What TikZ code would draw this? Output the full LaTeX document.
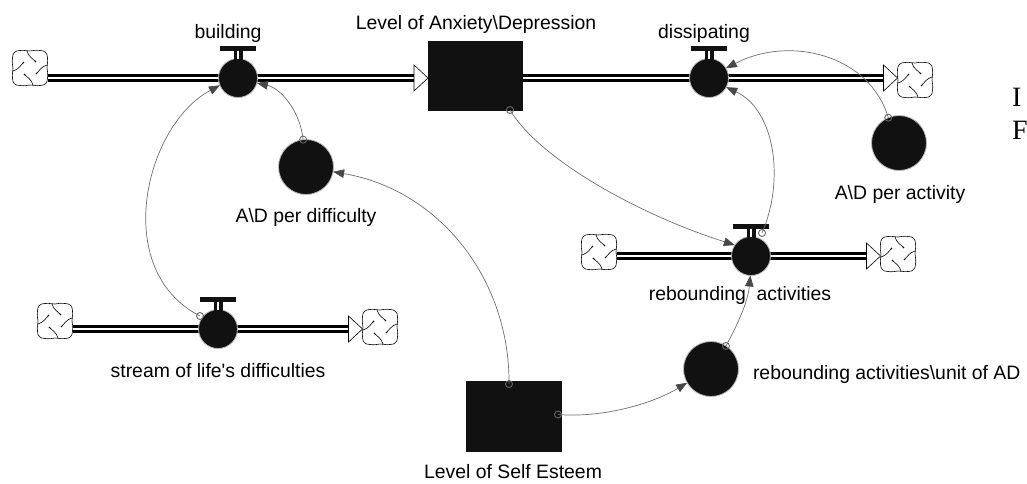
\documentclass[tikz,border=0pt]{standalone}
\usepackage{fontspec}
\setmainfont{Liberation Sans}
\newfontfamily\serifface{Liberation Serif}
\usetikzlibrary{arrows.meta,calc}

\definecolor{ink}{HTML}{111111}
\definecolor{linkgray}{HTML}{6E6E6E}
\definecolor{tipgray}{HTML}{484848}

\tikzset{
  cloudart/.pic={
    \foreach \r in {0,90,180,270}{
      \begin{scope}[rotate=\r]
        \draw[line width=0.6pt] (-10,-17.5) .. controls (-5,-18.2) and (-2.5,-16.6) .. (0,-17)
          .. controls (3,-17.6) and (6,-18) .. (10,-17.5) .. controls (15,-17.5) and (17.5,-15) .. (17.5,-10);
        \draw[line width=0.6pt] (-3,-17) .. controls (-1.5,-11.5) and (2.5,-9.5) .. (5.5,-6.5);
        \fill (5.5,-6.5) circle (0.9);
      \end{scope}
    }
  },
  valvetop/.pic={
    \fill[ink] (-18,-32) rectangle (18,-27.5);
    \fill[ink] (-4.5,-27.5) rectangle (4.5,-17);
    \draw[white, line width=1.2pt] (0,-27.5) -- (0,-19);
  }
}

\begin{document}
\begin{tikzpicture}[x=1pt,y=-1pt,
  every node/.style={inner sep=0pt, outer sep=0pt},
  lbl/.style={font=\fontsize{19.4}{22}\selectfont, anchor=base},
  stockbox/.style={rectangle, fill=ink, minimum width=95, minimum height=70},
  valvebody/.style={circle, fill=ink, draw=gray!55, line width=0.8pt, minimum size=39},
  auxbody/.style={circle, fill=ink, draw=gray!55, line width=0.8pt, minimum size=55},
  cloudbox/.style={rectangle, minimum size=35},
  pipe/.style={draw=black, line width=3.3pt, double=white, double distance=2.3pt},
  pipehead/.style={draw=black, fill=white, line width=0.6pt},
  link/.style={draw=linkgray, line width=0.7pt, -{Triangle[length=11pt,width=8.5pt,color=tipgray]}},
  srcring/.style={draw=gray!80!black, line width=0.9pt},
  sidenote/.style={font=\serifface\fontsize{28}{30}\selectfont, anchor=base west},
]
\useasboundingbox (0,0) rectangle (1027,483);

% ---- clouds (sources and sinks)
\node[cloudbox] (cTL) at (30,68) {};
\node[cloudbox] (cTR) at (915,80) {};
\node[cloudbox] (cRL) at (599,252) {};
\node[cloudbox] (cRR) at (898,254) {};
\node[cloudbox] (cSL) at (55,321) {};
\node[cloudbox] (cSR) at (380,327) {};
\foreach \c in {cTL,cTR,cRL,cRR,cSL,cSR}{ \pic at (\c) {cloudart}; }

% ---- stocks
\node[stockbox] (S1) at (475.5,76) {};
\node[stockbox, minimum width=96, minimum height=71] (S2) at (514,416.5) {};

% ---- valve positions (drawn after the pipes)
\coordinate (bvp) at (238,78);
\coordinate (dvp) at (709,78);
\coordinate (rvp) at (751,256);
\coordinate (svp) at (218,329);

% ---- pipes
\draw[pipe] (cTL.east |- bvp) -- ($(S1.west |- bvp)+(-14,0)$);
\draw[pipehead] ($(S1.west |- bvp)+(-14,-13)$) -- (S1.west |- bvp) -- ($(S1.west |- bvp)+(-14,13)$) -- cycle;
\draw[pipe] (S1.east |- dvp) -- ($(cTR.west |- dvp)+(-14,0)$);
\draw[pipehead] ($(cTR.west |- dvp)+(-14,-13)$) -- (cTR.west |- dvp) -- ($(cTR.west |- dvp)+(-14,13)$) -- cycle;
\draw[pipe] (cRL.east |- rvp) -- ($(cRR.west |- rvp)+(-14,0)$);
\draw[pipehead] ($(cRR.west |- rvp)+(-14,-13)$) -- (cRR.west |- rvp) -- ($(cRR.west |- rvp)+(-14,13)$) -- cycle;
\draw[pipe] (cSL.east |- svp) -- ($(cSR.west |- svp)+(-14,0)$);
\draw[pipehead] ($(cSR.west |- svp)+(-14,-13)$) -- (cSR.west |- svp) -- ($(cSR.west |- svp)+(-14,13)$) -- cycle;

% ---- valves
\node[valvebody] (bv) at (bvp) {};
\node[valvebody] (dv) at (dvp) {};
\node[valvebody] (rv) at (rvp) {};
\node[valvebody] (sv) at (svp) {};
\foreach \v in {bv,dv,rv,sv}{ \pic at (\v) {valvetop}; }

% ---- auxiliaries
\node[auxbody] (adD) at (306,167) {};
\node[auxbody] (adA) at (899,143) {};
\node[auxbody] (unit) at (711,369) {};

% ---- labels
\node[lbl] (tBuild) at (228,38) {building};
\node[lbl] (tS1) at (476,29) {Level of Anxiety\textbackslash Depression};
\node[lbl] (tDiss) at (704,38) {dissipating};
\node[lbl] (tADD) at (306,222) {A\textbackslash D per difficulty};
\node[lbl] (tADA) at (900,199) {A\textbackslash D per activity};
\node[lbl] (tReb) at (740,300) {rebounding\ \ activities};
\node[lbl, anchor=base west] (tUnit) at (753,379) {rebounding activities\textbackslash unit of AD};
\node[lbl] (tStream) at (218,377) {stream of life\textquotesingle s difficulties};
\node[lbl] (tS2) at (513,478) {Level of Self Esteem};
\node[sidenote] (tI) at (1012,106) {I};
\node[sidenote] (tF) at (1012,139) {F};

% ---- information links
\draw[link] ($(sv.center)+(-18,-13)$) .. controls (110,270) and (145,125) .. (bv.202);
\draw[link] (adD.96) .. controls (300,110) and (280,88) .. (bv.345);
\draw[link] ($(S2.north)+(-5,3)$) .. controls (510,280) and (440,190) .. (adD.350);
\draw[link] ($(S2.east)+(-4,-2)$) .. controls (600,418) and (650,405) .. (unit.210);
\draw[link] ($(S1.south east)+(-13,-1)$) .. controls (540,160) and (640,215) .. (rv.146);
\draw[link] ($(rv.center)+(11,-23)$) .. controls (785,180) and (775,110) .. (dv.332);
\draw[link] (adA.113) .. controls (870,55) and (790,35) .. (dv.30);
\draw[link] (unit.57) .. controls (740,320) and (748,300) .. (rv.268);

% ---- link source markers
\draw[srcring] ($(sv.center)+(-18,-13)$) circle (3.5);
\draw[srcring] (adD.96) circle (3.5);
\draw[srcring] ($(S2.north)+(-5,3)$) circle (3.5);
\draw[srcring] ($(S2.east)+(-4,-2)$) circle (3.5);
\draw[srcring] ($(S1.south east)+(-13,-1)$) circle (3.5);
\draw[srcring] ($(rv.center)+(11,-23)$) circle (3.5);
\draw[srcring] (adA.113) circle (3.5);
\draw[srcring] (unit.57) circle (3.5);
\end{tikzpicture}
\end{document}
